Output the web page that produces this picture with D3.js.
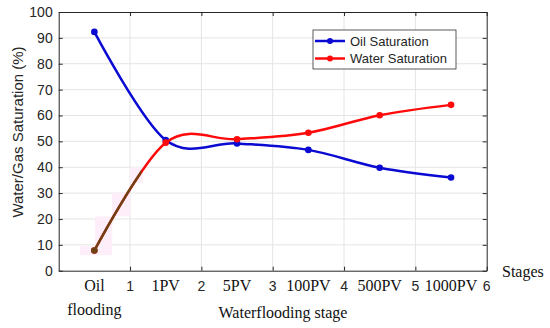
<!DOCTYPE html>
<html lang="en">
<head>
<meta charset="UTF-8">
<script src="https://d3js.org/d3.v7.min.js"></script>
<title>Water/Gas Saturation</title>
<style>
  body { margin: 0; background: #fff; }
  .grid line { stroke: #e4e4e4; stroke-width: 1px; }
  .axis path, .axis line { stroke: #262626; }
  .tick-num { font-family: "Liberation Sans", Arial, sans-serif; font-size: 14px; fill: #262626; }
  .serif { font-family: "Liberation Serif", "Times New Roman", serif; font-size: 16px; fill: #111; }
</style>
</head>
<body>
<svg width="550" height="328"></svg>
<script>
// data
const stages = ["Oil", "1PV", "5PV", "100PV", "500PV", "1000PV"];
const stagePos = [0.5, 1.5, 2.5, 3.5, 4.5, 5.5];
const oilSat = [92.3, 50.5, 49.2, 46.7, 39.8, 36.0];
const waterSat = [7.8, 49.5, 50.8, 53.3, 60.1, 64.1];
const xTicks = [1, 2, 3, 4, 5, 6];
const yTicks = [0, 10, 20, 30, 40, 50, 60, 70, 80, 90, 100];
// faint pink patches behind the start of the water curve: [x0, x1, y0, y1]
const patches = [[0.3, 0.75, 6, 9.5], [0.51, 0.75, 9.5, 21], [0.75, 1.0, 21, 30], [1.0, 1.18, 34, 40]];

const svg = d3.select("svg");
const m = { left: 58.7, right: 486.7, top: 12, bottom: 270.7 };

const x = d3.scaleLinear().domain([0, 6]).range([m.left, m.right]);
const y = d3.scaleLinear().domain([0, 100]).range([m.bottom, m.top]);

// grid
const grid = svg.append("g").attr("class", "grid");
grid.selectAll(".h").data(yTicks.slice(1, -1)).enter().append("line")
  .attr("x1", m.left).attr("x2", m.right)
  .attr("y1", d => y(d)).attr("y2", d => y(d));
grid.selectAll(".v").data(xTicks.slice(0, -1)).enter().append("line")
  .attr("y1", m.top).attr("y2", m.bottom)
  .attr("x1", d => x(d)).attr("x2", d => x(d));

svg.selectAll(".patch").data(patches).enter().append("rect")
  .attr("x", d => x(d[0])).attr("width", d => x(d[1]) - x(d[0]))
  .attr("y", d => y(d[3])).attr("height", d => y(d[2]) - y(d[3]))
  .attr("fill", "#fdeefa");

// axes (ticks inward, box on)
svg.append("g").attr("class", "axis").attr("transform", `translate(0,${m.bottom})`)
  .call(d3.axisBottom(x).tickValues(xTicks).tickSizeInner(-4).tickSizeOuter(0).tickFormat(""));
svg.append("g").attr("class", "axis").attr("transform", `translate(0,${m.top})`)
  .call(d3.axisTop(x).tickValues(xTicks).tickSizeInner(-4).tickSizeOuter(0).tickFormat(""));
svg.append("g").attr("class", "axis").attr("transform", `translate(${m.left},0)`)
  .call(d3.axisLeft(y).tickValues(yTicks).tickSizeInner(-4).tickSizeOuter(0).tickFormat(""));
svg.append("g").attr("class", "axis").attr("transform", `translate(${m.right},0)`)
  .call(d3.axisRight(y).tickValues(yTicks).tickSizeInner(-4).tickSizeOuter(0).tickFormat(""));

// tick labels
svg.selectAll(".ylab").data(yTicks).enter().append("text")
  .attr("class", "tick-num").attr("text-anchor", "end")
  .attr("x", m.left - 6).attr("y", d => y(d) + 5).text(d => d);
svg.selectAll(".xlab").data(xTicks).enter().append("text")
  .attr("class", "tick-num").attr("text-anchor", "middle")
  .attr("x", d => x(d)).attr("y", 291).text(d => d);
svg.selectAll(".stage").data(stages).enter().append("text")
  .attr("class", "serif").attr("text-anchor", "middle")
  .attr("x", (d, i) => x(stagePos[i])).attr("y", 291).text(d => d);
svg.append("text").attr("class", "serif").attr("text-anchor", "middle")
  .attr("x", x(0.5)).attr("y", 315).text("flooding");
svg.append("text").attr("class", "serif").attr("text-anchor", "middle")
  .attr("x", 283).attr("y", 318).text("Waterflooding stage");
svg.append("text").attr("class", "serif").attr("x", 502).attr("y", 277).text("Stages");

svg.append("text").attr("class", "tick-num")
  .attr("transform", "translate(23,132) rotate(-90)")
  .attr("text-anchor", "middle").style("font-size", "15px")
  .text("Water/Gas Saturation (%)");

// lines
const line = d3.line().x(d => x(d[0])).y(d => y(d[1])).curve(d3.curveCardinal.tension(0));
const oilPts = stagePos.map((p, i) => [p, oilSat[i]]);
const waterPts = stagePos.map((p, i) => [p, waterSat[i]]);

svg.append("clipPath").attr("id", "brownClip").append("rect")
  .attr("x", 0).attr("y", 0).attr("width", x(1.16)).attr("height", 328);

function series(pts, color) {
  svg.append("path").datum(pts).attr("d", line)
    .attr("fill", "none").attr("stroke", color).attr("stroke-width", 2.5);
  svg.selectAll(null).data(pts).enter().append("circle")
    .attr("cx", d => x(d[0])).attr("cy", d => y(d[1])).attr("r", 3.3).attr("fill", color);
}
series(oilPts, "#0a0ad2");
series(waterPts, "#ff0a0a");

// brownish start of the water curve
const brown = svg.append("g").attr("clip-path", "url(#brownClip)");
brown.append("path").datum(waterPts).attr("d", line)
  .attr("fill", "none").attr("stroke", "#6e4214").attr("stroke-width", 2.5);
brown.append("circle").attr("cx", x(stagePos[0])).attr("cy", y(waterSat[0]))
  .attr("r", 3.3).attr("fill", "#6e4214");

// legend
const lg = svg.append("g");
lg.append("rect").attr("x", 313).attr("y", 30).attr("width", 143).attr("height", 39)
  .attr("fill", "#fff").attr("stroke", "#333").attr("stroke-width", 0.8);
const legendItems = [["Oil Saturation", "#0a0ad2"], ["Water Saturation", "#ff0a0a"]];
legendItems.forEach((it, i) => {
  const yy = 41 + i * 17.5;
  lg.append("line").attr("x1", 315).attr("x2", 345).attr("y1", yy).attr("y2", yy)
    .attr("stroke", it[1]).attr("stroke-width", 2.5);
  lg.append("circle").attr("cx", 330).attr("cy", yy).attr("r", 3).attr("fill", it[1]);
  lg.append("text").attr("class", "tick-num").style("font-size", "13px")
    .attr("x", 350).attr("y", yy + 4.5).text(it[0]);
});
</script>
</body>
</html>
